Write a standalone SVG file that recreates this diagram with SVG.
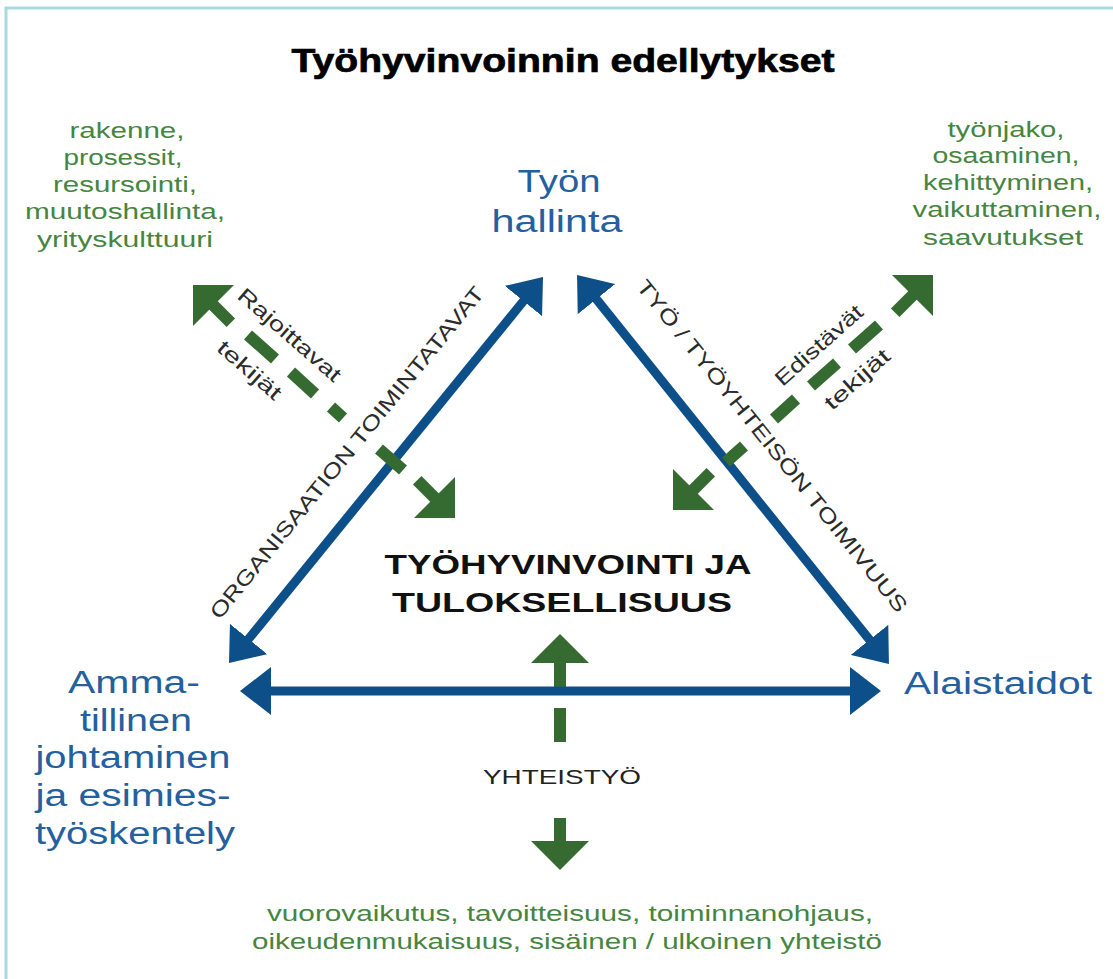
<svg xmlns="http://www.w3.org/2000/svg" width="1113" height="979" viewBox="0 0 1113 979">
<defs>
<style>
text{font-family:"Liberation Sans",Arial,sans-serif;text-anchor:middle}
.title{font-size:33px;font-weight:bold;fill:#000;stroke:#000;stroke-width:0.7}
.g{font-size:22px;fill:#468540}
.b{font-size:31px;fill:#24609e}
.c{font-size:27px;font-weight:bold;fill:#111}
.r{font-size:21px;fill:#2b2b2b}
.y{font-size:20px;fill:#222}
.bl{stroke:#0d4f88;stroke-width:9;fill:none;marker-start:url(#bh);marker-end:url(#bh)}
.gd{stroke:#356b30;stroke-width:12;fill:none}
.gh{stroke:#356b30;stroke-width:12;fill:none;marker-end:url(#gh)}
</style>
<marker id="bh" viewBox="0 -24 31 48" refX="2" refY="0" markerWidth="31" markerHeight="48" markerUnits="userSpaceOnUse" orient="auto-start-reverse">
<path d="M0,-24 L31,0 L0,24 z" fill="#0d4f88"/>
</marker>
<marker id="gh" viewBox="0 -29 29 58" refX="1" refY="0" markerWidth="29" markerHeight="58" markerUnits="userSpaceOnUse" orient="auto">
<path d="M0,-29 L29,0 L0,29 z" fill="#356b30"/>
</marker>
</defs>
<rect width="1113" height="979" fill="#fff"/>
<path d="M6,979 V8 H1113" fill="none" stroke="#a9d8e0" stroke-width="3"/>

<text class="title" x="563" y="72" textLength="543" lengthAdjust="spacingAndGlyphs">Työhyvinvoinnin edellytykset</text>

<g id="connectors">
<path class="gh" d="M560,692 V662"/>
<path class="bl" d="M247.3,640.5 L524.7,299.5"/>
<path class="bl" d="M595.2,297.6 L870.8,641.4"/>
<path class="bl" d="M269,691 H852"/>
<g id="rajoittavat-arrow">
<path class="gh" d="M230.8,322.8 L212.8,304.8"/>
<path class="gd" d="M248,335 L275,359 M291,372 L315,394 M331,407 L343,418 M379,449 L403,470"/>
<path class="gh" d="M417.2,480.2 L435.2,498.2"/>
</g>
<g id="edistavat-arrow">
<path class="gh" d="M710.8,472.2 L692.8,490.2"/>
<path class="gd" d="M726,462 L744,446 M774,419 L796,399 M811,386 L837,363 M852,349 L879,325"/>
<path class="gh" d="M895.2,312.8 L913.2,294.8"/>
</g>
<g id="yhteistyo-arrow">
<path class="gd" d="M560,708 V742"/>
<path class="gh" d="M560,818 V842"/>
</g>
<text class="r" transform="translate(352.5,457.2) rotate(-50.9)" textLength="421" lengthAdjust="spacingAndGlyphs">ORGANISAATION TOIMINTATAVAT</text>
<text class="r" transform="translate(766.5,450.5) rotate(51.3)" textLength="419" lengthAdjust="spacingAndGlyphs">TYÖ / TYÖYHTEISÖN TOIMIVUUS</text>
<text class="r" transform="translate(284.9,340.2) rotate(41.2)" textLength="130" lengthAdjust="spacingAndGlyphs">Rajoittavat</text>
<text class="r" transform="translate(244.8,375.5) rotate(41.2)" textLength="78" lengthAdjust="spacingAndGlyphs">tekijät</text>
<text class="r" transform="translate(823.5,350.6) rotate(-41.7)" textLength="110" lengthAdjust="spacingAndGlyphs">Edistävät</text>
<text class="r" transform="translate(861.9,384.6) rotate(-41.7)" textLength="80" lengthAdjust="spacingAndGlyphs">tekijät</text>
<text class="y" x="562" y="784" textLength="158" lengthAdjust="spacingAndGlyphs">YHTEISTYÖ</text>
</g>

<g id="node-tyon-hallinta">
<text class="b" x="559" y="192" textLength="83" lengthAdjust="spacingAndGlyphs">Työn</text>
<text class="b" x="557" y="232" textLength="131" lengthAdjust="spacingAndGlyphs">hallinta</text>
</g>
<g id="node-center">
<text class="c" x="568" y="574" textLength="367" lengthAdjust="spacingAndGlyphs">TYÖHYVINVOINTI JA</text>
<text class="c" x="562" y="612" textLength="340" lengthAdjust="spacingAndGlyphs">TULOKSELLISUUS</text>
</g>
<g id="node-alaistaidot">
<text class="b" x="998" y="694" textLength="188" lengthAdjust="spacingAndGlyphs">Alaistaidot</text>
</g>
<g id="node-johtaminen">
<text class="b" x="134" y="693" textLength="132" lengthAdjust="spacingAndGlyphs">Amma-</text>
<text class="b" x="136" y="731" textLength="112" lengthAdjust="spacingAndGlyphs">tillinen</text>
<text class="b" x="133" y="768" textLength="195" lengthAdjust="spacingAndGlyphs">johtaminen</text>
<text class="b" x="133" y="806" textLength="195" lengthAdjust="spacingAndGlyphs">ja esimies-</text>
<text class="b" x="135" y="844" textLength="200" lengthAdjust="spacingAndGlyphs">työskentely</text>
</g>
<g id="node-rajoittavat-list">
<text class="g" x="127" y="138" textLength="115" lengthAdjust="spacingAndGlyphs">rakenne,</text>
<text class="g" x="123" y="165" textLength="119" lengthAdjust="spacingAndGlyphs">prosessit,</text>
<text class="g" x="125" y="192" textLength="144" lengthAdjust="spacingAndGlyphs">resursointi,</text>
<text class="g" x="125" y="219" textLength="200" lengthAdjust="spacingAndGlyphs">muutoshallinta,</text>
<text class="g" x="125" y="247" textLength="176" lengthAdjust="spacingAndGlyphs">yrityskulttuuri</text>
</g>
<g id="node-edistavat-list">
<text class="g" x="1006" y="137" textLength="117" lengthAdjust="spacingAndGlyphs">työnjako,</text>
<text class="g" x="1006" y="163" textLength="147" lengthAdjust="spacingAndGlyphs">osaaminen,</text>
<text class="g" x="1008" y="190" textLength="170" lengthAdjust="spacingAndGlyphs">kehittyminen,</text>
<text class="g" x="1007" y="217" textLength="189" lengthAdjust="spacingAndGlyphs">vaikuttaminen,</text>
<text class="g" x="1003" y="245" textLength="160" lengthAdjust="spacingAndGlyphs">saavutukset</text>
</g>
<g id="node-yhteistyo-list">
<text class="g" x="570" y="921" textLength="606" lengthAdjust="spacingAndGlyphs">vuorovaikutus, tavoitteisuus, toiminnanohjaus,</text>
<text class="g" x="567" y="949" textLength="630" lengthAdjust="spacingAndGlyphs">oikeudenmukaisuus, sisäinen / ulkoinen yhteistö</text>
</g>
</svg>
